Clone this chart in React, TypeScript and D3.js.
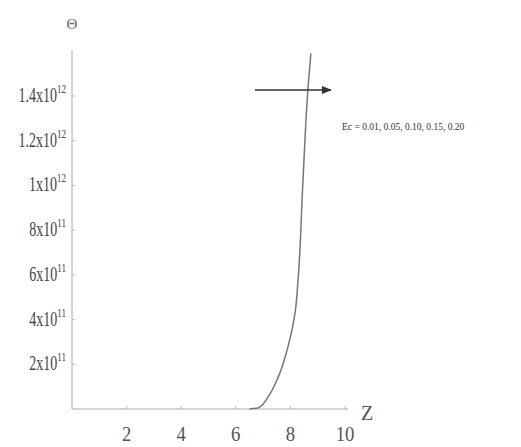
import React from "react";
import * as d3 from "d3";

const zValues = [6.5, 6.85, 7.18, 7.51, 7.91, 8.17, 8.28, 8.46, 8.64, 8.75];
const thetaValues = [0, 0.06e11, 0.54e11, 1.3e11, 2.77e11, 4.29e11, 5.77e11, 10.2e11, 14.27e11, 15.9e11];
const xTicks = [2, 4, 6, 8, 10];
const yTickMantissa = ["2", "4", "6", "8", "1", "1.2", "1.4"];
const yTickExp = ["11", "11", "11", "11", "12", "12", "12"];
const yTickValues = [2e11, 4e11, 6e11, 8e11, 1e12, 1.2e12, 1.4e12];
const ecLabel = "Ec = 0.01, 0.05, 0.10, 0.15, 0.20";

export default function App() {
  const W = 521, H = 447;
  const x = d3.scaleLinear().domain([0, 10]).range([72, 345]);
  const y = d3.scaleLinear().domain([0, 1.4e12]).range([409, 96]);
  const pts = zValues.map((z, i) => [x(z), y(thetaValues[i])] as [number, number]);
  const line = d3.line().curve(d3.curveMonotoneY)(pts) || "";
  const font = "'Liberation Serif', 'DejaVu Serif', serif";
  return (
    <svg width={W} height={H} style={{ position: "absolute", left: 0, top: 0, background: "#fff" }}>
      <defs>
        <marker id="ah" viewBox="0 0 10 10" refX="9" refY="5" markerWidth="7" markerHeight="7" orient="auto">
          <path d="M0,1 L10,5 L0,9 Z" fill="#333" />
        </marker>
      </defs>
      {/* axes */}
      <line x1={x(0)} x2={x(0)} y1={50} y2={y(0)} stroke="#aaa" strokeWidth={1} />
      <line x1={x(0)} x2={348} y1={y(0)} y2={y(0)} stroke="#aaa" strokeWidth={1} />
      {xTicks.map((t) => (
        <g key={t}>
          <line x1={x(t)} x2={x(t)} y1={y(0)} y2={y(0) - 3} stroke="#bbb" />
          <text x={x(t)} y={441} textAnchor="middle" fontFamily={font} fontSize={22} fill="#555"
            transform={`translate(${x(t)},0) scale(0.85,1) translate(${-x(t)},0)`}>
            {t}
          </text>
        </g>
      ))}
      {yTickValues.map((v, i) => (
        <g key={v}>
          <line x1={x(0)} x2={x(0) + 3} y1={y(v)} y2={y(v)} stroke="#bbb" />
          <g transform={`translate(66,${y(v) + 6}) scale(0.7,1)`}>
            <text x={0} y={0} textAnchor="end" fontFamily={font} fontSize={20} fill="#444">
              {yTickMantissa[i] + "x10"}
              <tspan dy={-9} fontSize={13}>{yTickExp[i]}</tspan>
            </text>
          </g>
        </g>
      ))}
      <text x={x(0)} y={29} textAnchor="middle" fontFamily={font} fontSize={15} fill="#666">Θ</text>
      <text x={367} y={420} textAnchor="middle" fontFamily={font} fontSize={20} fill="#555">Z</text>
      {/* curve */}
      <path d={line} fill="none" stroke="#777" strokeWidth={1.5} />
      {/* arrow */}
      <line x1={255} x2={331} y1={90} y2={90} stroke="#333" strokeWidth={1.5} markerEnd="url(#ah)" />
      <text x={342} y={130} fontFamily={font} fontSize={9.5} fill="#333">{ecLabel}</text>
    </svg>
  );
}
